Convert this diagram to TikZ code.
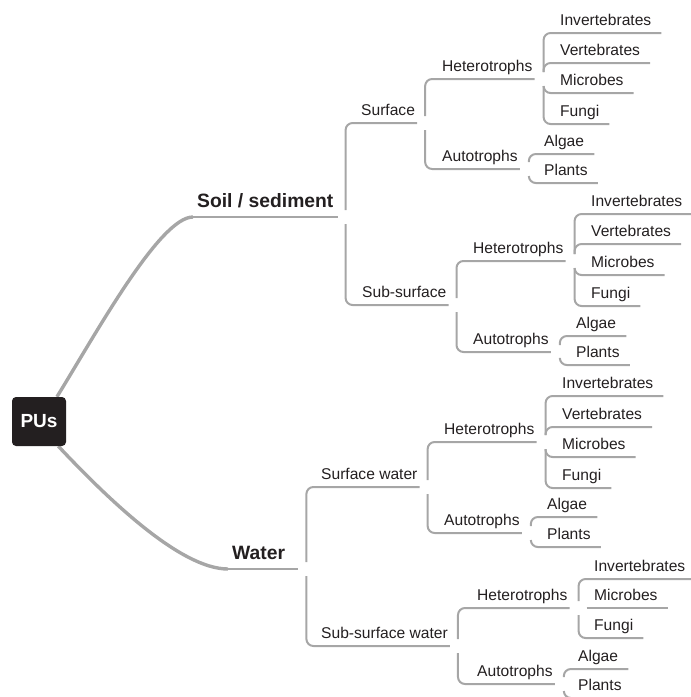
\documentclass[tikz,border=0pt]{standalone}
\usepackage{fontspec}
\setmainfont{Liberation Sans}
\usetikzlibrary{backgrounds}
\definecolor{pucol}{RGB}{35,31,32}
\definecolor{branchcol}{RGB}{166,166,166}
\begin{document}
\begin{tikzpicture}[x=1pt,y=-1pt,
    pu/.style={fill=pucol,text=white,rounded corners=4pt,minimum width=54pt,
      minimum height=49pt,font=\fontsize{19}{22}\selectfont\bfseries},
    major/.style={anchor=south west,text=pucol,inner xsep=4pt,inner ysep=9pt,
      text depth=0pt,font=\fontsize{19.3}{22}\selectfont\bfseries},
    mid/.style={anchor=south west,text=pucol,inner xsep=2pt,inner ysep=7pt,
      text depth=0pt,font=\fontsize{15.6}{18}\selectfont},
    leaf/.style={mid,inner xsep=10pt},
    branch/.style={draw=branchcol,line width=2pt,rounded corners=7pt},
    trunk/.style={draw=branchcol,line width=3.4pt}]
  \useasboundingbox (0,0) rectangle (691,697);
  \node[pu] (pus) at (39,421.5) {PUs};
  % soil / sediment
  \node[major] (soil) at (193,217) {Soil / sediment};
  \node[mid] (surf) at (359,123) {Surface};
  \node[mid] (subs) at (360,305) {Sub-surface};
  \node[mid] (sh) at (440,79) {Heterotrophs};
  \node[mid] (sa) at (440,169) {Autotrophs};
  \node[leaf] (shi) at (550,33) {Invertebrates};
  \node[leaf] (shv) at (550,63) {Vertebrates};
  \node[leaf] (shm) at (550,93) {Microbes};
  \node[leaf] (shf) at (550,124) {Fungi};
  \node[leaf] (saa) at (534,154) {Algae};
  \node[leaf] (sap) at (534,183) {Plants};
  \node[mid] (bh) at (471,261) {Heterotrophs};
  \node[mid] (ba) at (471,352) {Autotrophs};
  \node[leaf] (bhi) at (581,214) {Invertebrates};
  \node[leaf] (bhv) at (581,244) {Vertebrates};
  \node[leaf] (bhm) at (581,275) {Microbes};
  \node[leaf] (bhf) at (581,306) {Fungi};
  \node[leaf] (baa) at (566,336) {Algae};
  \node[leaf] (bap) at (566,365) {Plants};
  % water
  \node[major,text width=62pt,align=left] (water) at (228,569) {Water};
  \node[mid] (sw) at (319,487) {Surface water};
  \node[mid] (ssw) at (319,646) {Sub-surface water};
  \node[mid] (wh) at (442,442) {Heterotrophs};
  \node[mid] (wa) at (442,533) {Autotrophs};
  \node[leaf] (whi) at (552,396) {Invertebrates};
  \node[leaf] (whv) at (552,427) {Vertebrates};
  \node[leaf] (whm) at (552,457) {Microbes};
  \node[leaf] (whf) at (552,488) {Fungi};
  \node[leaf] (waa) at (537,517) {Algae};
  \node[leaf] (wap) at (537,547) {Plants};
  \node[mid] (uh) at (475,608) {Heterotrophs};
  \node[mid] (ua) at (475,684) {Autotrophs};
  \node[leaf] (uhi) at (584,579) {Invertebrates};
  \node[leaf] (uhm) at (584,608) {Microbes};
  \node[leaf] (uhf) at (584,638) {Fungi};
  \node[leaf] (uaa) at (568,669) {Algae};
  \node[leaf] (uap) at (568,698) {Plants};
  \begin{scope}[on background layer]
    \draw[trunk] (pus.54) .. controls +(40,-65) and +(-33,0) .. (soil.south west);
    \draw[trunk] (pus.-52) .. controls +(49,52) and +(-48,0) .. (water.south west);
  \end{scope}
  \begin{scope}[branch]
    \draw (soil.south west) -- (soil.south east);
    \draw (water.south west) -- (water.south east);
    \draw (soil.south east) ++(8,-7) |- (surf.south east);
    \draw (soil.south east) ++(8,7) |- (subs.south east);
    \draw (surf.south east) ++(8,-7) |- (sh.south east);
    \draw (surf.south east) ++(8,7) |- (sa.south east);
    \draw (sh.south east) ++(9,-7) |- (shi.south east);
    \draw (sh.south east) ++(9,-7) |- (shv.south east);
    \draw (sh.south east) ++(9,7) |- (shm.south east);
    \draw (sh.south east) ++(9,7) |- (shf.south east);
    \draw (sa.south east) ++(9,-7) |- (saa.south east);
    \draw (sa.south east) ++(9,7) |- (sap.south east);
    \draw (subs.south east) ++(8,-7) |- (bh.south east);
    \draw (subs.south east) ++(8,7) |- (ba.south east);
    \draw (bh.south east) ++(9,-7) |- (bhi.south east);
    \draw (bh.south east) ++(9,-7) |- (bhv.south east);
    \draw (bh.south east) ++(9,7) |- (bhm.south east);
    \draw (bh.south east) ++(9,7) |- (bhf.south east);
    \draw (ba.south east) ++(9,-7) |- (baa.south east);
    \draw (ba.south east) ++(9,7) |- (bap.south east);
    \draw (water.south east) ++(8,-7) |- (sw.south east);
    \draw (water.south east) ++(8,7) |- (ssw.south east);
    \draw (sw.south east) ++(8,-7) |- (wh.south east);
    \draw (sw.south east) ++(8,7) |- (wa.south east);
    \draw (wh.south east) ++(9,-7) |- (whi.south east);
    \draw (wh.south east) ++(9,-7) |- (whv.south east);
    \draw (wh.south east) ++(9,7) |- (whm.south east);
    \draw (wh.south east) ++(9,7) |- (whf.south east);
    \draw (wa.south east) ++(9,-7) |- (waa.south east);
    \draw (wa.south east) ++(9,7) |- (wap.south east);
    \draw (ssw.south east) ++(8,-7) |- (uh.south east);
    \draw (ssw.south east) ++(8,7) |- (ua.south east);
    \draw (uh.south east) ++(9,-7) |- (uhi.south east);
    \draw (uh.south east) ++(17,0) -- (uhm.south east);
    \draw (uh.south east) ++(9,7) |- (uhf.south east);
    \draw (ua.south east) ++(9,-7) |- (uaa.south east);
    \draw (ua.south east) ++(9,7) |- (uap.south east);
  \end{scope}
\end{tikzpicture}
\end{document}
